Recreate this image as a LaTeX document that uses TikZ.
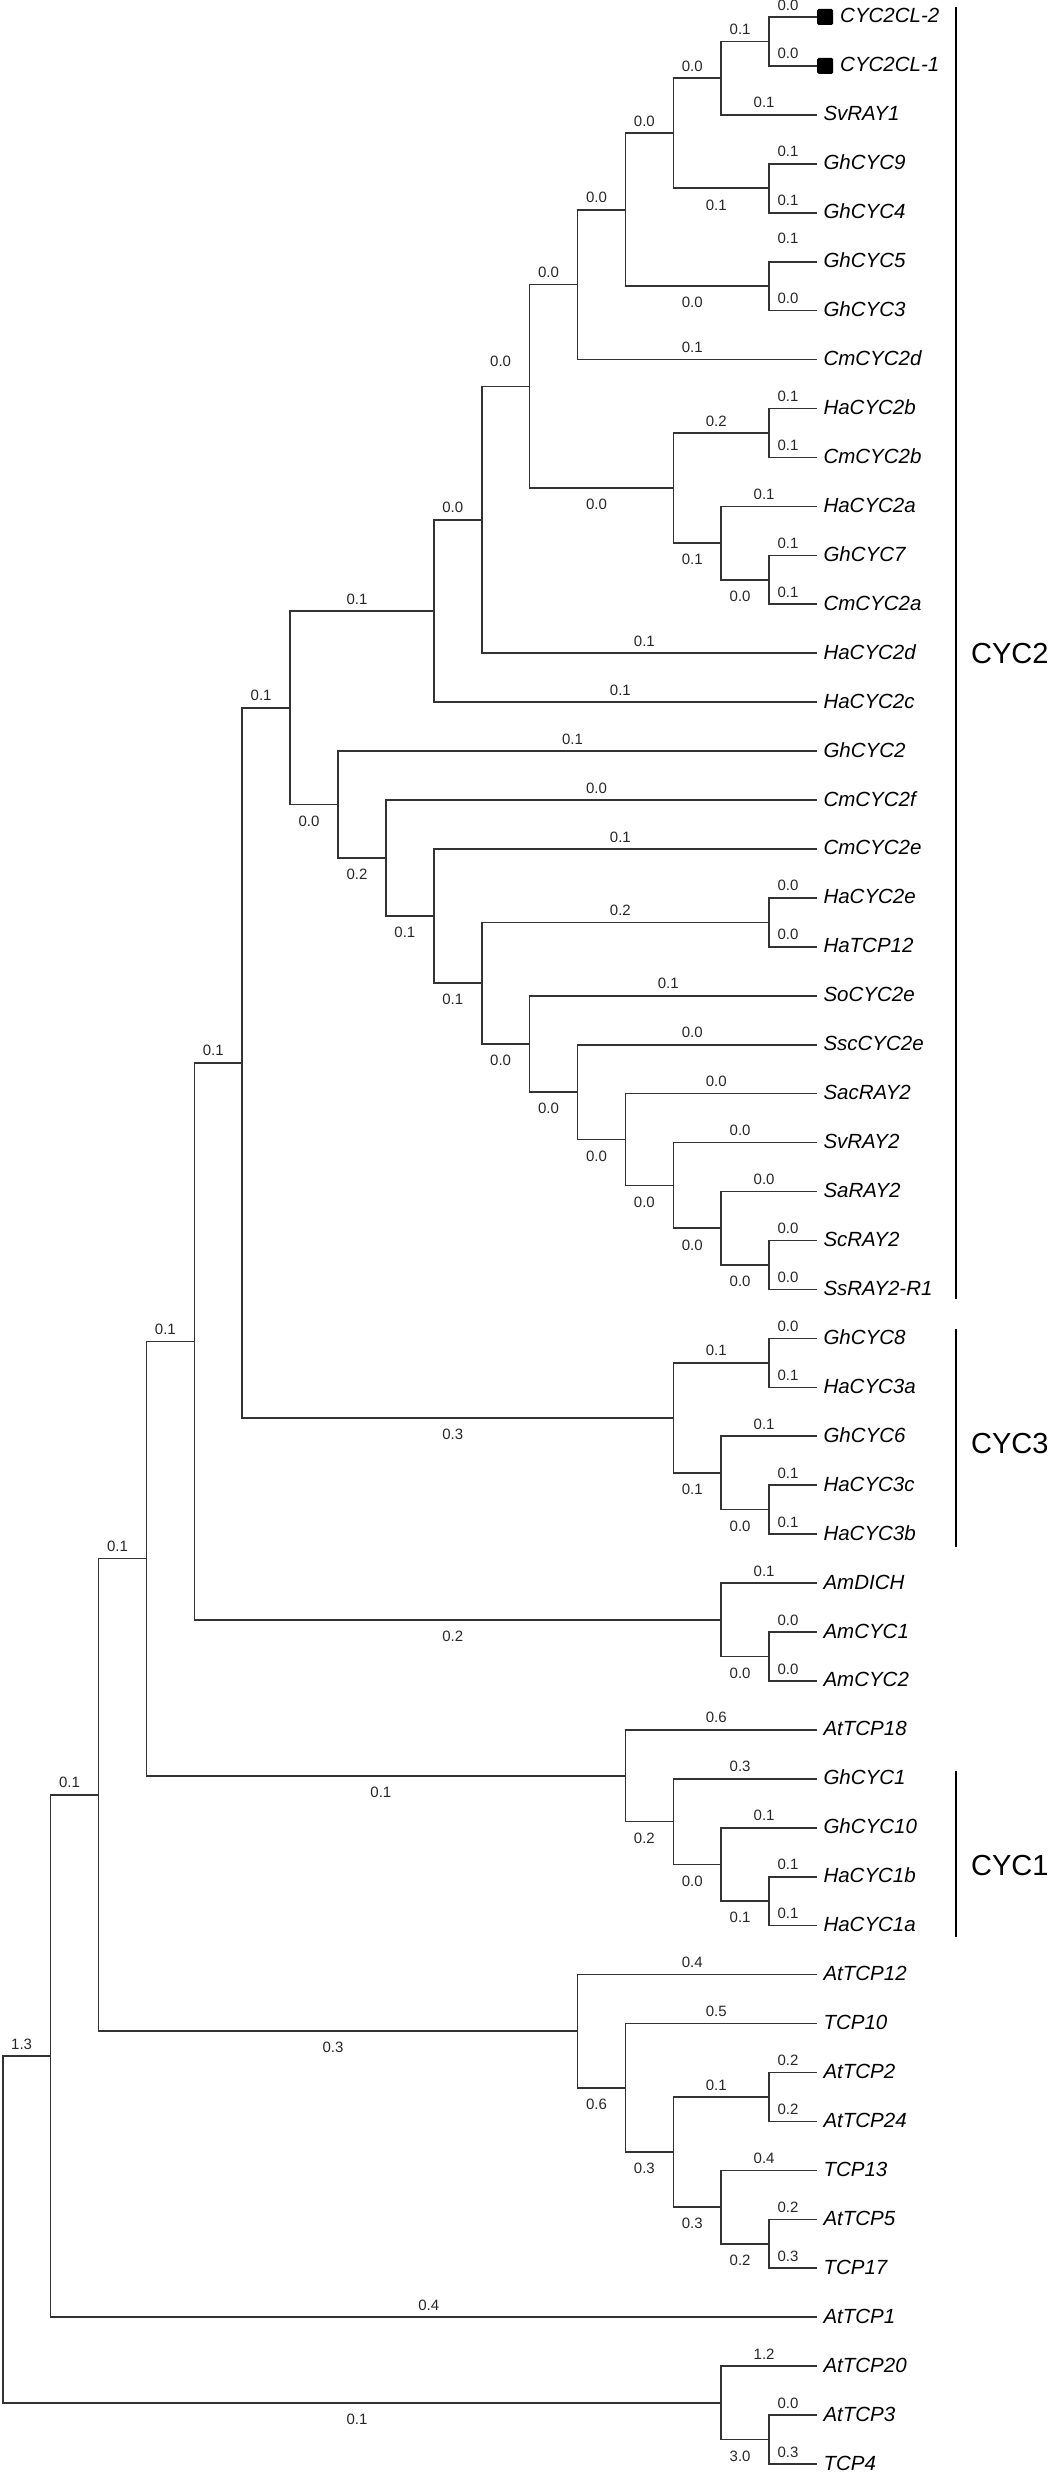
\documentclass[tikz,border=0pt]{standalone}
\usepackage{fontspec}
\setmainfont{Liberation Sans}
\usetikzlibrary{calc}

% inner node: name, depth, first child, last child
\newcommand{\junction}[4]{%
  \path let \p1=(#3), \p2=(#4) in coordinate (#1) at ({2.7+47.9*#2},{0.5*(\y1+\y2)});}
% branch: parent, child, label style, length
\newcommand{\twig}[4]{\draw[branch] (#1) |- (#2) node[#3] (b-#2) {#4};}

\tikzset{
  branch/.style={line width=1.6pt, black!80},
  blen/.style={font=\fontsize{15}{15}\selectfont, inner sep=0pt, text=black!85},
  lup/.style={blen, pos=0.75, above=6pt, xshift=-5pt},
  ldn/.style={blen, pos=0.75, below=10.5pt, xshift=-5pt},
  taxon/.style={font=\fontsize{20.5}{24}\selectfont\itshape, anchor=base west, inner sep=0pt, yshift=-6pt},
  clade/.style={font=\fontsize{29}{30}\selectfont, anchor=west, inner sep=0pt},
  cladebar/.style={line width=2.4pt},
  tipbox/.style={fill=black, minimum size=16pt, inner sep=0pt, rounded corners=1.5pt, anchor=west},
}

\begin{document}
\begin{tikzpicture}[x=1pt,y=-1pt]
  \useasboundingbox (0,0) rectangle (1059,2481);

  % leaves
  \foreach \g [count=\i] in {CYC2CL-2, CYC2CL-1, SvRAY1, GhCYC9, GhCYC4, GhCYC5, GhCYC3,
      CmCYC2d, HaCYC2b, CmCYC2b, HaCYC2a, GhCYC7, CmCYC2a, HaCYC2d, HaCYC2c, GhCYC2,
      CmCYC2f, CmCYC2e, HaCYC2e, HaTCP12, SoCYC2e, SscCYC2e, SacRAY2, SvRAY2, SaRAY2,
      ScRAY2, SsRAY2-R1, GhCYC8, HaCYC3a, GhCYC6, HaCYC3c, HaCYC3b, AmDICH, AmCYC1,
      AmCYC2, AtTCP18, GhCYC1, GhCYC10, HaCYC1b, HaCYC1a, AtTCP12, TCP10, AtTCP2,
      AtTCP24, TCP13, AtTCP5, TCP17, AtTCP1, AtTCP20, AtTCP3, TCP4}{
    \coordinate (\g) at (817,{17+(\i-1)*48.94});
    \ifnum\i<3
      \node[tipbox] (\g-box) at (\g) {};
      \node[taxon, xshift=23pt] (\g-name) at (\g) {\g};
    \else
      \node[taxon, xshift=6.3pt] (\g-name) at (\g) {\g};
    \fi
  }

  % CYC2 clade
  \junction{A}{16}{CYC2CL-2}{CYC2CL-1}
  \junction{B}{15}{A}{SvRAY1}
  \junction{C}{16}{GhCYC9}{GhCYC4}
  \junction{D}{14}{B}{C}
  \junction{E}{16}{GhCYC5}{GhCYC3}
  \junction{F}{13}{D}{E}
  \junction{G}{12}{F}{CmCYC2d}
  \junction{I}{16}{HaCYC2b}{CmCYC2b}
  \junction{J}{16}{GhCYC7}{CmCYC2a}
  \junction{K}{15}{HaCYC2a}{J}
  \junction{L}{14}{I}{K}
  \junction{H}{11}{G}{L}
  \junction{M}{10}{H}{HaCYC2d}
  \junction{N}{9}{M}{HaCYC2c}
  \junction{Z}{16}{HaCYC2e}{HaTCP12}
  \junction{V}{16}{ScRAY2}{SsRAY2-R1}
  \junction{U}{15}{SaRAY2}{V}
  \junction{T}{14}{SvRAY2}{U}
  \junction{S}{13}{SacRAY2}{T}
  \junction{R}{12}{SscCYC2e}{S}
  \junction{Q}{11}{SoCYC2e}{R}
  \junction{P}{10}{Z}{Q}
  \junction{O}{9}{CmCYC2e}{P}
  \junction{W}{8}{CmCYC2f}{O}
  \junction{X}{7}{GhCYC2}{W}
  \junction{Y}{6}{N}{X}
  % CYC3 clade
  \junction{c1}{16}{GhCYC8}{HaCYC3a}
  \junction{c3}{16}{HaCYC3c}{HaCYC3b}
  \junction{c2}{15}{GhCYC6}{c3}
  \junction{c0}{14}{c1}{c2}
  % Antirrhinum
  \junction{a2}{16}{AmCYC1}{AmCYC2}
  \junction{a1}{15}{AmDICH}{a2}
  % CYC1 clade
  \junction{g3}{16}{HaCYC1b}{HaCYC1a}
  \junction{g2}{15}{GhCYC10}{g3}
  \junction{g1}{14}{GhCYC1}{g2}
  \junction{g0}{13}{AtTCP18}{g1}
  % outgroups
  \junction{p4}{16}{AtTCP5}{TCP17}
  \junction{p3}{15}{TCP13}{p4}
  \junction{p5}{16}{AtTCP2}{AtTCP24}
  \junction{p2}{14}{p5}{p3}
  \junction{p1}{13}{TCP10}{p2}
  \junction{p0}{12}{AtTCP12}{p1}
  \junction{r2}{16}{AtTCP3}{TCP4}
  \junction{r1}{15}{AtTCP20}{r2}
  % backbone
  \junction{n5}{5}{Y}{c0}
  \junction{n4}{4}{n5}{a1}
  \junction{n3}{3}{n4}{g0}
  \junction{n2}{2}{n3}{p0}
  \junction{n1}{1}{n2}{AtTCP1}
  \junction{root}{0}{n1}{r1}

  % branches
  \twig{A}{CYC2CL-2}{lup}{0.0}
  \twig{A}{CYC2CL-1}{lup}{0.0}
  \twig{B}{A}{lup}{0.1}
  \twig{B}{SvRAY1}{lup}{0.1}
  \twig{C}{GhCYC9}{lup}{0.1}
  \twig{C}{GhCYC4}{lup}{0.1}
  \twig{D}{B}{lup}{0.0}
  \twig{D}{C}{ldn}{0.1}
  \twig{E}{GhCYC5}{lup,yshift=11pt}{0.1}
  \twig{E}{GhCYC3}{lup}{0.0}
  \twig{F}{D}{lup}{0.0}
  \twig{F}{E}{ldn}{0.0}
  \twig{G}{F}{lup}{0.0}
  \twig{G}{CmCYC2d}{lup}{0.1}
  \twig{I}{HaCYC2b}{lup}{0.1}
  \twig{I}{CmCYC2b}{lup}{0.1}
  \twig{J}{GhCYC7}{lup}{0.1}
  \twig{J}{CmCYC2a}{lup}{0.1}
  \twig{K}{HaCYC2a}{lup}{0.1}
  \twig{K}{J}{ldn}{0.0}
  \twig{L}{I}{lup}{0.2}
  \twig{L}{K}{ldn}{0.1}
  \twig{H}{G}{lup}{0.0}
  \twig{H}{L}{ldn}{0.0}
  \twig{M}{H}{lup,yshift=13pt}{0.0}
  \twig{M}{HaCYC2d}{lup}{0.1}
  \twig{N}{M}{lup}{0.0}
  \twig{N}{HaCYC2c}{lup}{0.1}
  \twig{Z}{HaCYC2e}{lup}{0.0}
  \twig{Z}{HaTCP12}{lup}{0.0}
  \twig{V}{ScRAY2}{lup}{0.0}
  \twig{V}{SsRAY2-R1}{lup}{0.0}
  \twig{U}{SaRAY2}{lup}{0.0}
  \twig{U}{V}{ldn}{0.0}
  \twig{T}{SvRAY2}{lup}{0.0}
  \twig{T}{U}{ldn}{0.0}
  \twig{S}{SacRAY2}{lup}{0.0}
  \twig{S}{T}{ldn}{0.0}
  \twig{R}{SscCYC2e}{lup}{0.0}
  \twig{R}{S}{ldn}{0.0}
  \twig{Q}{SoCYC2e}{lup}{0.1}
  \twig{Q}{R}{ldn}{0.0}
  \twig{P}{Z}{lup}{0.2}
  \twig{P}{Q}{ldn}{0.0}
  \twig{O}{CmCYC2e}{lup}{0.1}
  \twig{O}{P}{ldn}{0.1}
  \twig{W}{CmCYC2f}{lup}{0.0}
  \twig{W}{O}{ldn}{0.1}
  \twig{X}{GhCYC2}{lup}{0.1}
  \twig{X}{W}{ldn}{0.2}
  \twig{Y}{N}{lup}{0.1}
  \twig{Y}{X}{ldn}{0.0}
  \twig{c1}{GhCYC8}{lup}{0.0}
  \twig{c1}{HaCYC3a}{lup}{0.1}
  \twig{c3}{HaCYC3c}{lup}{0.1}
  \twig{c3}{HaCYC3b}{lup}{0.1}
  \twig{c2}{GhCYC6}{lup}{0.1}
  \twig{c2}{c3}{ldn}{0.0}
  \twig{c0}{c1}{lup}{0.1}
  \twig{c0}{c2}{ldn}{0.1}
  \twig{n5}{Y}{lup}{0.1}
  \twig{n5}{c0}{ldn}{0.3}
  \twig{a2}{AmCYC1}{lup}{0.0}
  \twig{a2}{AmCYC2}{lup}{0.0}
  \twig{a1}{AmDICH}{lup}{0.1}
  \twig{a1}{a2}{ldn}{0.0}
  \twig{n4}{n5}{lup}{0.1}
  \twig{n4}{a1}{ldn}{0.2}
  \twig{g3}{HaCYC1b}{lup}{0.1}
  \twig{g3}{HaCYC1a}{lup}{0.1}
  \twig{g2}{GhCYC10}{lup}{0.1}
  \twig{g2}{g3}{ldn}{0.1}
  \twig{g1}{GhCYC1}{lup}{0.3}
  \twig{g1}{g2}{ldn}{0.0}
  \twig{g0}{AtTCP18}{lup}{0.6}
  \twig{g0}{g1}{ldn}{0.2}
  \twig{n3}{n4}{lup}{0.1}
  \twig{n3}{g0}{ldn}{0.1}
  \twig{p4}{AtTCP5}{lup}{0.2}
  \twig{p4}{TCP17}{lup}{0.3}
  \twig{p3}{TCP13}{lup}{0.4}
  \twig{p3}{p4}{ldn}{0.2}
  \twig{p5}{AtTCP2}{lup}{0.2}
  \twig{p5}{AtTCP24}{lup}{0.2}
  \twig{p2}{p5}{lup}{0.1}
  \twig{p2}{p3}{ldn}{0.3}
  \twig{p1}{TCP10}{lup}{0.5}
  \twig{p1}{p2}{ldn}{0.3}
  \twig{p0}{AtTCP12}{lup}{0.4}
  \twig{p0}{p1}{ldn}{0.6}
  \twig{n2}{n3}{lup}{0.1}
  \twig{n2}{p0}{ldn}{0.3}
  \twig{n1}{n2}{lup}{0.1}
  \twig{n1}{AtTCP1}{lup}{0.4}
  \twig{r2}{AtTCP3}{lup}{0.0}
  \twig{r2}{TCP4}{lup}{0.3}
  \twig{r1}{AtTCP20}{lup}{1.2}
  \twig{r1}{r2}{ldn}{3.0}
  \twig{root}{n1}{lup}{1.3}
  \twig{root}{r1}{ldn}{0.1}

  % clade bars
  \draw[cladebar] (956,7) -- (956,1299);
  \node[clade] (cyc2) at (971,654) {CYC2};
  \draw[cladebar] (956,1329) -- (956,1547);
  \node[clade] (cyc3) at (971,1443) {CYC3};
  \draw[cladebar] (956,1771) -- (956,1937);
  \node[clade] (cyc1) at (971,1865) {CYC1};
\end{tikzpicture}
\end{document}
